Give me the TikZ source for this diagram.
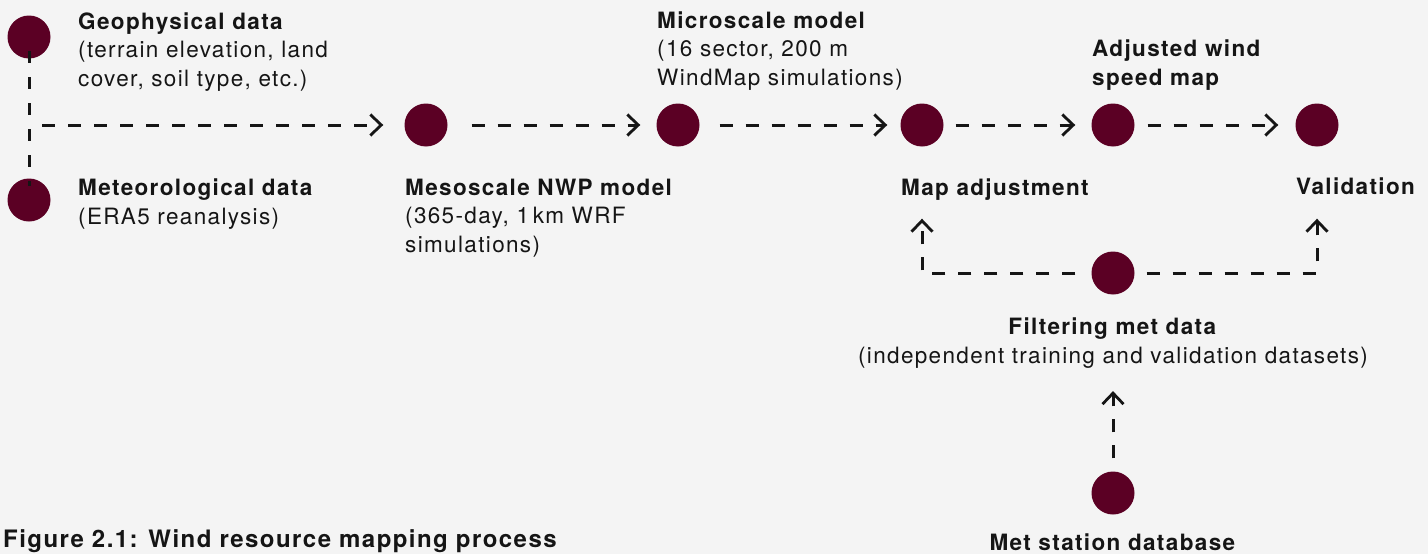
\documentclass[tikz,border=0pt]{standalone}
\usepackage{fontspec}
\setmainfont{TeX Gyre Heros}[LetterSpace=6]
\usetikzlibrary{arrows.meta}
\definecolor{bgc}{HTML}{F4F4F4}
\definecolor{wine}{HTML}{5B0024}
\definecolor{ink}{HTML}{151515}
\tikzset{
  dot/.style={circle, fill=wine, draw=none, minimum size=43pt, inner sep=0pt},
  flow/.style={draw=ink, line width=3pt, dash pattern=on 13pt off 13pt,
    -{Straight Barb[length=11pt, width=21pt, line width=2.8pt]}},
  plainflow/.style={draw=ink, line width=3pt, dash pattern=on 12pt off 14pt},
  lbl/.style={anchor=base west, align=left, inner sep=0pt, text=ink,
    font=\fontsize{22.5}{28.5}\selectfont},
  clbl/.style={anchor=base, align=center, inner sep=0pt, text=ink,
    font=\fontsize{22.5}{28.5}\selectfont},
}
\begin{document}
\begin{tikzpicture}[x=1pt, y=-1pt]
  \fill[bgc] (0,0) rectangle (1428,554);
  \useasboundingbox (0,0) rectangle (1428,554);

  % stations of the process
  \node[dot] (geo)   at (29,37)    {};
  \node[dot] (met)   at (29,200)   {};
  \node[dot] (meso)  at (426,125)  {};
  \node[dot] (micro) at (678,125)  {};
  \node[dot] (adj)   at (922,125)  {};
  \node[dot] (wsm)   at (1113,125) {};
  \node[dot] (val)   at (1317,125) {};
  \node[dot] (filt)  at (1113,273) {};
  \node[dot] (db)    at (1113,493) {};

  % labels (anchored at the baseline of their last line)
  \node[lbl] (tgeo) at (78,86) {\textbf{Geophysical data}\\(terrain elevation, land\\cover, soil type, etc.)};
  \node[lbl] (tmet) at (78,224) {\textbf{Meteorological data}\\(ERA5 reanalysis)};
  \node[lbl] (tmeso) at (405,252) {\textbf{Mesoscale NWP model}\\(365-day, 1\,km WRF\\simulations)};
  \node[lbl] (tmicro) at (657,85) {\textbf{Microscale model}\\(16 sector, 200 m\\WindMap simulations)};
  \node[lbl] (tadj) at (901,195) {\textbf{Map adjustment}};
  \node[lbl] (twsm) at (1092,85) {\textbf{Adjusted wind}\\\textbf{speed map}};
  \node[lbl] (tval) at (1296,194) {\textbf{Validation}};
  \node[clbl] (tfilt) at (1113,363) {\textbf{Filtering met data}\\(independent training and validation datasets)};
  \node[clbl] (tdb) at (1113,550) {\textbf{Met station database}};
  \node[lbl, font=\fontsize{24}{28}\selectfont] (cap) at (3,547) {\textbf{Figure 2.1: Wind resource mapping process}};

  % input data merge into the mesoscale model
  \coordinate (join) at (geo.center |- meso.center);
  \draw[plainflow, shorten <=14pt, shorten >=14pt] (geo.center) -- (met.center);
  \draw[flow, shorten <=13pt, shorten >=21pt] (join) -- (meso.west);

  % main chain
  \draw[flow, shorten <=24pt, shorten >=16pt] (meso.east) -- (micro.west);
  \draw[flow, shorten <=20pt, shorten >=13pt] (micro.east) -- (adj.west);
  \draw[flow, shorten <=12pt, shorten >=16pt] (adj.east) -- (wsm.west);
  \draw[flow, shorten <=13pt, shorten >=17pt] (wsm.east) -- (val.west);

  % met data feed
  \coordinate (fl) at (adj.center |- filt.center);
  \coordinate (fr) at (val.center |- filt.center);
  \draw[flow, shorten <=16pt] (filt.west) -- (fl) -- ([yshift=-72pt]adj.south);
  \draw[flow, shorten <=12pt] (filt.east) -- (fr) -- ([yshift=-72pt]val.south);
  \draw[flow, shorten <=13pt] (db.north) -- ([yshift=-23pt]tfilt.south);
\end{tikzpicture}
\end{document}
